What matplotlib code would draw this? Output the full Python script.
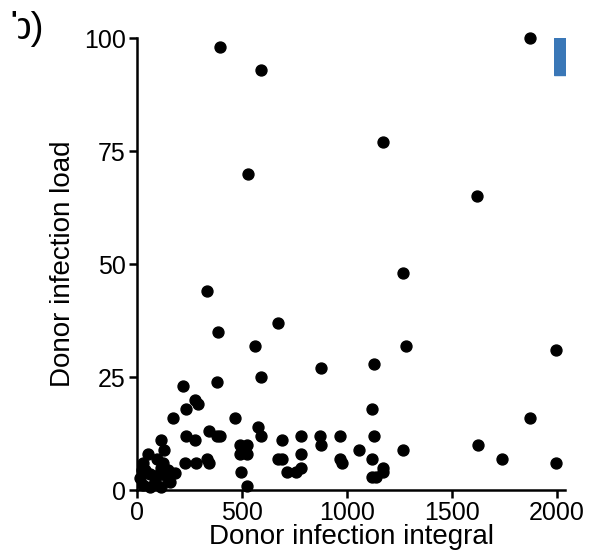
import matplotlib
matplotlib.use("Agg")
import matplotlib.pyplot as plt
from matplotlib.patches import Rectangle

plt.rcParams['font.family'] = ['Liberation Sans', 'DejaVu Sans']

# donor infection integral (x) and load (y)
integral = [395, 589, 1871, 1170, 530, 1622, 1268, 332, 673, 387, 562, 1284, 1995,
            876, 1130, 590, 382, 218, 276, 289, 232, 1118, 173, 467, 1871,
            575, 343, 382, 398, 589, 232, 784, 871, 967, 1130, 276, 689, 114,
            1625, 490, 525, 879, 1268, 1057, 130, 490, 525, 979, 673, 692, 784, 1737,
            229, 281, 332, 344, 1995, 967, 1173, 784, 495, 716, 760, 1173, 1118, 1141,
            522, 1118, 54, 30, 22, 94, 125, 149, 181, 62, 101, 141, 30, 62, 117,
            157, 14, 86, 117, 40]
load = [98, 93, 100, 77, 70, 65, 48, 44, 37, 35, 32, 32, 31,
        27, 28, 25, 24, 23, 20, 19, 18, 18, 16, 16, 16,
        14, 13, 12, 12, 12, 12, 12, 12, 12, 12, 11, 11, 11,
        10, 10, 10, 10, 9, 9, 9, 8, 8, 6, 7, 7, 8, 7,
        6, 6, 7, 6, 6, 7, 5, 5, 4, 4, 4, 4, 7, 3,
        1, 3, 8, 6, 4.4, 6.8, 6, 4.4, 3.8, 3.7, 3.3, 2.9, 1.1, 0.7, 0.7,
        1.8, 2.6, 1.8, 5, 4.5]

fig = plt.figure(figsize=(5.98, 5.59), dpi=100)
ax = fig.add_axes([0.229, 0.123, 0.716, 0.809])

ax.scatter(integral, load, s=62, color='black', clip_on=False, zorder=3)

ax.set_xlim(0, 2040)
ax.set_ylim(0, 100)
ax.set_xticks([0, 500, 1000, 1500, 2000])
ax.set_yticks([0, 25, 50, 75, 100])
ax.spines['top'].set_visible(False)
ax.spines['right'].set_visible(False)
for s in ['left', 'bottom']:
    ax.spines[s].set_linewidth(1.8)
ax.tick_params(labelsize=18, width=1.8, length=6, pad=2)
ax.set_xlabel("Donor infection integral", fontsize=20, labelpad=-1)
ax.set_ylabel("Donor infection load", fontsize=20, labelpad=6)

# cropped blue bar in the corner
cax = fig.add_axes([0.926, 0.862, 0.02, 0.07])
cax.axhspan(0.05, 1, color='#3a77b7')
cax.set_xlim(0, 1)
cax.set_ylim(0, 1)
cax.axis('off')

# panel label, its left part hidden as in the source crop
fig.text(0.016, 0.948, "b)", fontsize=28, ha='left', va='center')
fig.patches.append(Rectangle((0, 0.88), 0.029, 0.09, transform=fig.transFigure,
                             color='white', zorder=5))

fig.savefig("out.png", dpi=100)
